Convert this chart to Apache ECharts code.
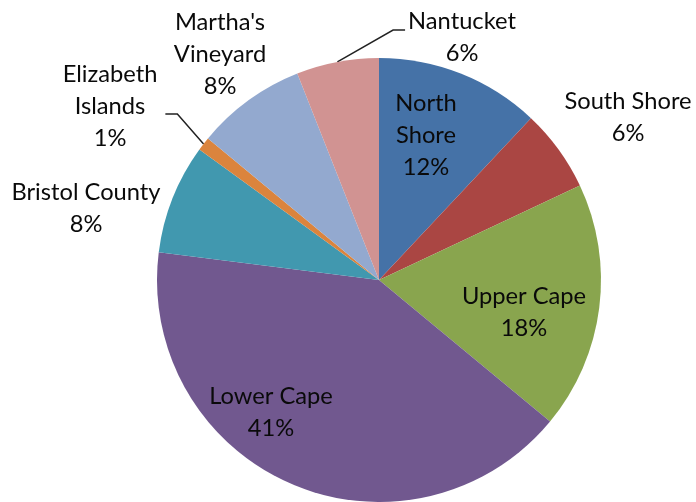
<!DOCTYPE html>
<html>
<head>
<meta charset="utf-8">
<script src="https://cdn.jsdelivr.net/npm/echarts@6/dist/echarts.min.js"></script>
<style>
  html, body { margin: 0; padding: 0; background: #fff; }
  #chart { width: 696px; height: 502px; }
</style>
</head>
<body>
<div id="chart"></div>
<script>
// regions, clockwise from 12 o'clock
const categories = ["North Shore", "South Shore", "Upper Cape", "Lower Cape", "Bristol County", "Elizabeth Islands", "Martha's Vineyard", "Nantucket"];
const shares = [12, 6, 18, 41, 8, 1, 8, 6];
const labelNames = ["North\nShore", "South Shore", "Upper Cape", "Lower Cape", "Bristol County", "Elizabeth\nIslands", "Martha's\nVineyard", "Nantucket"];
const colors = ["#4572A7", "#AA4643", "#89A54E", "#71588F", "#4198AF", "#DB843D", "#93A9CF", "#D19392"];

// where excel put each data label (block centre), and which ones get a leader line
const labelSpots = [[426, 135], [628, 117], [524, 312], [271, 412], [86, 208], [110, 106], [220, 54], [462, 37]];
const leaders = { 5: "right", 7: "left" };

const chart = echarts.init(document.getElementById("chart"));

const pieData = categories.map((c, i) => ({
  name: c,
  value: shares[i],
  itemStyle: { color: colors[i] },
  labelLine: { show: leaders[i] != null }
}));

chart.setOption({
  animation: false,
  series: [{
    type: "pie",
    center: [379, 280],
    radius: 222,
    startAngle: 90,
    clockwise: true,
    avoidLabelOverlap: false,
    data: pieData,
    itemStyle: { borderWidth: 0 },
    label: {
      position: "outside",
      formatter: (p) => labelNames[p.dataIndex] + "\n" + p.value + "%",
      fontFamily: "Lato",
      fontSize: 23.7,
      lineHeight: 32,
      color: "#0a0a0a",
      align: "center"
    },
    labelLine: {
      lineStyle: { color: "#222", width: 1.5 }
    },
    labelLayout: function (params) {
      const i = params.dataIndex;
      const [x, y] = labelSpots[i];
      const out = { x: x, y: y, align: "center", verticalAlign: "middle" };
      const side = leaders[i];
      if (side && params.labelLinePoints) {
        const w = params.labelRect.width;
        const start = params.labelLinePoints[0];
        if (side === "left") {
          const ex = x - w / 2 - 3, ey = y - 7;
          out.labelLinePoints = [start, [ex - 12, ey], [ex, ey]];
        } else {
          const ex = x + w / 2 + 8, ey = y + 8;
          out.labelLinePoints = [start, [ex + 12, ey], [ex, ey]];
        }
      }
      return out;
    }
  }]
});
</script>
</body>
</html>
